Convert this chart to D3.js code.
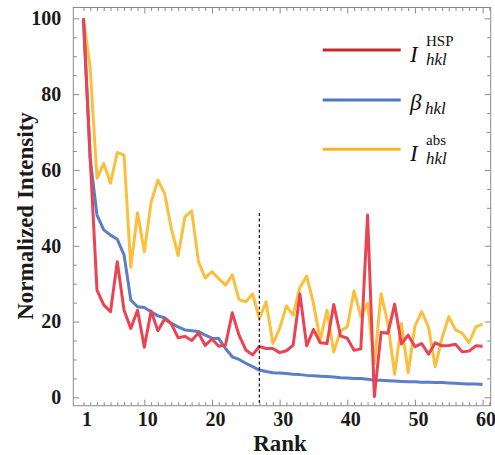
<!DOCTYPE html>
<html>
<head>
<meta charset="utf-8">
<script src="https://cdn.jsdelivr.net/npm/d3@7/dist/d3.min.js"></script>
<style>
  html, body { margin: 0; padding: 0; background: #fff; }
  svg { display: block; }
  .tick text { font-family: "Liberation Serif", "DejaVu Serif", serif; font-weight: bold; font-size: 20px; fill: #1a1a1a; }
  .title { font-family: "Liberation Serif", "DejaVu Serif", serif; font-weight: bold; font-size: 23px; fill: #1a1a1a; }
  .leg { font-family: "Liberation Serif", "DejaVu Serif", serif; fill: #111; }
</style>
</head>
<body>
<svg id="chart" width="495" height="455"></svg>
<script>
  /**
   * Data
   */
  const ranks = d3.range(1, 61);

  const hsp = [100, 63, 28.3, 24.4, 22.6, 35.8, 23, 18.2, 23, 13.2,
    22.8, 17.6, 20.7, 19.4, 15.7, 16.1, 15.0, 17.0, 13.7, 15.4,
    13.5, 13.8, 22.3, 16.4, 12.5, 11.2, 13.4, 12.9, 12.9, 11.8,
    12.3, 13.8, 27.3, 13.6, 17.9, 14.4, 14.2, 24.5, 16.2, 15.6,
    12.4, 12.8, 48.1, 0.2, 17.2, 16.9, 24.6, 14.1, 16.4, 13.4,
    14.2, 11.4, 14.4, 13.6, 13.7, 14.0, 12.0, 12.2, 13.6, 13.5];

  const beta = [100, 63, 48.1, 44.2, 42.8, 41.7, 37.6, 25.7, 23.9, 23.7,
    22.6, 21.5, 21.0, 19.5, 18.6, 17.8, 17.6, 17.4, 16.4, 15.6,
    15.5, 12.9, 10.7, 10.0, 9.0, 8.1, 7.2, 6.8, 6.5, 6.4,
    6.3, 6.1, 6.0, 5.8, 5.7, 5.6, 5.5, 5.4, 5.2, 5.1,
    5.0, 5.0, 4.8, 4.5, 4.5, 4.4, 4.3, 4.2, 4.1, 4.1,
    4.0, 4.0, 3.9, 3.9, 3.8, 3.7, 3.6, 3.5, 3.5, 3.4];

  const abs = [100, 86.8, 57.8, 61.7, 56.5, 64.6, 63.9, 34.3, 48.7, 38.4,
    51.5, 57.3, 53.8, 44.5, 37.4, 47.6, 49.2, 35.8, 31.5, 33.2,
    31.3, 29.6, 32.3, 25.8, 25.2, 27.3, 20.8, 25.2, 14.2, 18.2,
    24.1, 21.7, 29.0, 32.0, 24.8, 15.1, 23.0, 12.0, 17.5, 18.6,
    28.1, 21.3, 24.8, 9.0, 27.3, 19.5, 6.1, 19.5, 6.5, 18.8,
    22.6, 18.6, 8.1, 15.6, 21.3, 17.8, 16.9, 14.4, 18.6, 19.3];

  const xTickLabels = [1, 10, 20, 30, 40, 50, 60];
  const yTickLabels = [0, 20, 40, 60, 80, 100];
  const cutoffRank = 27;

  // drawing order: yellow under blue under red
  const series = [
    { name: "abs", values: abs, color: "#fcbf3c", legend: "#f9b524" },
    { name: "beta", values: beta, color: "#5a7ec8", legend: "#4f78c4" },
    { name: "hsp", values: hsp, color: "#ea4352", legend: "#c52a30" }
  ];

  /**
   * Scales
   */
  const plotLeft = 73.3, plotRight = 490.7, plotTop = 7.5, plotBottom = 405.7;
  const x = d3.scaleLinear().domain([-0.5, 61.2]).range([plotLeft, plotRight]);
  const y = d3.scaleLinear().domain([-2.2, 102.85]).range([plotBottom, plotTop]);

  const svg = d3.select("#chart");
  const frameColor = "#8a8a8a";

  // Lines
  const line = d3.line()
    .x(function(d, i) { return x(ranks[i]); })
    .y(function(d) { return y(d); });

  svg.selectAll(".series")
    .data(series)
    .enter()
    .append("path")
    .attr("class", "series")
    .attr("fill", "none")
    .attr("stroke", function(d) { return d.color; })
    .attr("stroke-width", 3)
    .attr("stroke-linejoin", "round")
    .attr("d", function(d) { return line(d.values); });

  // dashed cutoff line
  svg.append("line")
    .attr("x1", x(cutoffRank)).attr("x2", x(cutoffRank))
    .attr("y1", 213).attr("y2", plotBottom)
    .attr("stroke", "#111")
    .attr("stroke-width", 1.2)
    .attr("stroke-dasharray", "3,2.5");

  /**
   * Axes
   */
  function styleAxis(g) {
    g.select(".domain").remove();
    g.selectAll(".tick line").attr("stroke", frameColor);
  }

  const xMinor = d3.range(1, 62).filter(function(v) { return v % 10 !== 0; });
  const xMajor = [10, 20, 30, 40, 50, 60];
  const yMinor = d3.range(0, 101, 5).filter(function(v) { return v % 20 !== 0; });

  // bottom
  svg.append("g").attr("transform", "translate(0," + plotBottom + ")")
    .call(d3.axisBottom(x).tickValues(xMinor).tickSize(-3.5).tickFormat(""))
    .call(styleAxis);
  svg.append("g").attr("transform", "translate(0," + plotBottom + ")")
    .call(d3.axisBottom(x).tickValues(xMajor).tickSize(-6).tickFormat(""))
    .call(styleAxis);
  svg.append("g").attr("transform", "translate(0," + plotBottom + ")")
    .call(d3.axisBottom(x).tickValues(xTickLabels).tickSize(0).tickPadding(6))
    .call(styleAxis)
    .selectAll("text").attr("dy", "0.71em").attr("dx", 3);

  // top
  svg.append("g").attr("transform", "translate(0," + plotTop + ")")
    .call(d3.axisTop(x).tickValues(xMinor).tickSize(-3.5).tickFormat(""))
    .call(styleAxis);
  svg.append("g").attr("transform", "translate(0," + plotTop + ")")
    .call(d3.axisTop(x).tickValues(xMajor).tickSize(-6).tickFormat(""))
    .call(styleAxis);

  // left
  svg.append("g").attr("transform", "translate(" + plotLeft + ",0)")
    .call(d3.axisLeft(y).tickValues(yMinor).tickSize(-3.5).tickFormat(""))
    .call(styleAxis);
  svg.append("g").attr("transform", "translate(" + plotLeft + ",0)")
    .call(d3.axisLeft(y).tickValues(yTickLabels).tickSize(-6).tickPadding(12))
    .call(styleAxis);

  // right
  svg.append("g").attr("transform", "translate(" + plotRight + ",0)")
    .call(d3.axisRight(y).tickValues(yMinor).tickSize(-3.5).tickFormat(""))
    .call(styleAxis);
  svg.append("g").attr("transform", "translate(" + plotRight + ",0)")
    .call(d3.axisRight(y).tickValues(yTickLabels).tickSize(-6).tickFormat(""))
    .call(styleAxis);

  // frame
  svg.append("rect")
    .attr("x", plotLeft).attr("y", plotTop)
    .attr("width", plotRight - plotLeft).attr("height", plotBottom - plotTop)
    .attr("fill", "none")
    .attr("stroke", frameColor)
    .attr("stroke-width", 1);

  // axis titles
  svg.append("text")
    .attr("class", "title")
    .attr("x", 280).attr("y", 451)
    .attr("text-anchor", "middle")
    .text("Rank");

  svg.append("text")
    .attr("class", "title")
    .attr("transform", "translate(33," + 216 + ") rotate(-90)")
    .attr("text-anchor", "middle")
    .text("Normalized Intensity");

  /**
   * Legend
   */
  const legendRows = [
    { cy: 50, color: series[2].legend, main: "I", sup: "HSP", supDy: -4, subDy: 15 },
    { cy: 100, color: series[1].legend, main: "\u03b2", sup: null, supDy: 0, subDy: 14 },
    { cy: 149.3, color: series[0].legend, main: "I", sup: "abs", supDy: -4, subDy: 15 }
  ];

  const leg = svg.selectAll(".legRow")
    .data(legendRows)
    .enter()
    .append("g")
    .attr("class", "legRow");

  leg.append("line")
    .attr("x1", 322.7).attr("x2", 400.7)
    .attr("y1", function(d) { return d.cy; })
    .attr("y2", function(d) { return d.cy; })
    .attr("stroke", function(d) { return d.color; })
    .attr("stroke-width", 3);

  leg.append("text")
    .attr("class", "leg")
    .attr("x", 410)
    .attr("y", function(d) { return d.cy + (d.sup ? 12 : 10); })
    .style("font-style", "italic")
    .style("font-size", "23px")
    .text(function(d) { return d.main; });

  leg.filter(function(d) { return d.sup; })
    .append("text")
    .attr("class", "leg")
    .attr("x", 426)
    .attr("y", function(d) { return d.cy + d.supDy; })
    .style("font-size", "15px")
    .text(function(d) { return d.sup; });

  leg.append("text")
    .attr("class", "leg")
    .attr("x", function(d) { return d.sup ? 426 : 425; })
    .attr("y", function(d) { return d.cy + d.subDy; })
    .style("font-style", "italic")
    .style("font-size", "17px")
    .text("hkl");
</script>
</body>
</html>
